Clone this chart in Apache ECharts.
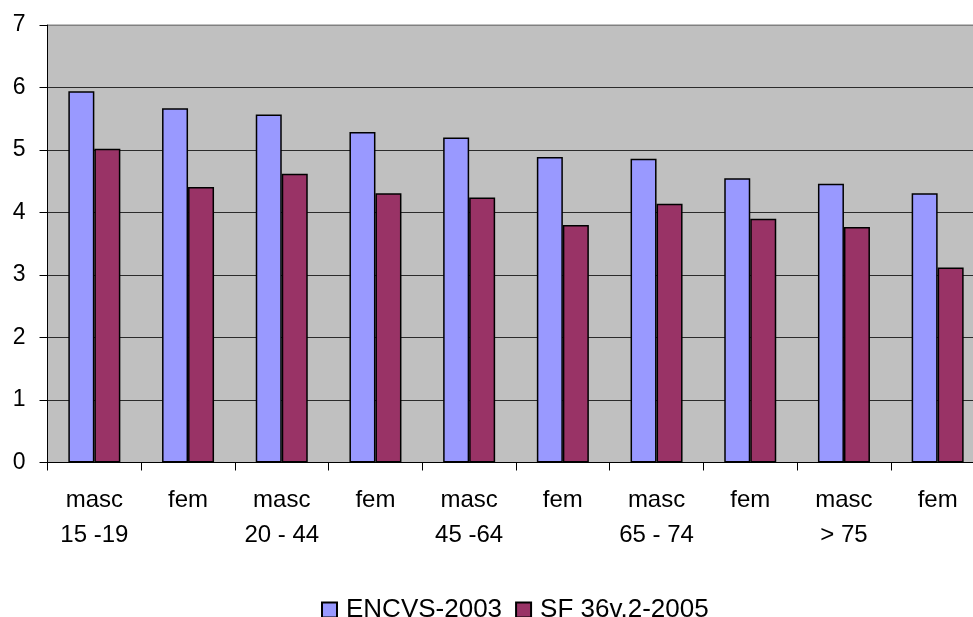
<!DOCTYPE html>
<html>
<head>
<meta charset="utf-8">
<script src="https://cdn.jsdelivr.net/npm/echarts@6/dist/echarts.min.js"></script>
<style>
html,body{margin:0;padding:0;background:#fff;overflow:hidden;width:973px;height:617px;}
#chart{width:990px;height:617px;}
</style>
</head>
<body>
<div id="chart"></div>
<script>
var categories = ["masc\n15 -19", "fem", "masc\n20 - 44", "fem", "masc\n45 -64", "fem", "masc\n65 - 74", "fem", "masc\n> 75", "fem"];
var seriesNames = ["ENCVS-2003", "SF 36v.2-2005"];
var encvs = [5.94, 5.67, 5.57, 5.29, 5.20, 4.89, 4.86, 4.55, 4.46, 4.31];
var sf36 = [5.02, 4.41, 4.62, 4.31, 4.24, 3.80, 4.14, 3.90, 3.77, 3.12];
var yTicks = [0, 1, 2, 3, 4, 5, 6, 7];

var FONT = '"Liberation Sans", Arial, sans-serif';
var chart = echarts.init(document.getElementById('chart'), null, {renderer: 'canvas'});
chart.setOption({
  animation: false,
  backgroundColor: '#ffffff',
  grid: {
    left: 47.5, right: 5.5, top: 25, bottom: 154.5,
    show: true, backgroundColor: '#c0c0c0', borderColor: '#808080', borderWidth: 1,
    containLabel: false
  },
  legend: {
    data: seriesNames,
    left: 316, top: 592,
    icon: 'rect', itemWidth: 15, itemHeight: 15, itemGap: 13,
    textStyle: {fontFamily: FONT, fontSize: 26, color: '#000', padding: [0, 0, 0, 4]}
  },
  xAxis: {
    type: 'category',
    data: categories,
    boundaryGap: true,
    axisLine: {show: true, lineStyle: {color: '#000', width: 1}},
    axisTick: {show: true, length: 8, lineStyle: {color: '#000'}},
    axisLabel: {
      fontFamily: FONT, fontSize: 24, color: '#000', lineHeight: 35,
      margin: 20, interval: 0
    },
    splitLine: {show: false}
  },
  yAxis: {
    type: 'value',
    min: yTicks[0], max: yTicks[yTicks.length - 1], interval: 1,
    axisLine: {show: true, lineStyle: {color: '#000', width: 1}},
    axisTick: {show: true, length: 8, lineStyle: {color: '#000'}},
    axisLabel: {fontFamily: FONT, fontSize: 23, color: '#000', margin: 22},
    splitLine: {show: true, lineStyle: {color: ['#2b2b2b', '#2b2b2b', '#2b2b2b', '#2b2b2b', '#2b2b2b', '#2b2b2b', '#2b2b2b', '#808080'], width: 1}}
  },
  series: [
    {
      name: seriesNames[0], type: 'bar', data: encvs,
      barWidth: 26, barGap: '0%',
      itemStyle: {color: '#9999ff', borderColor: '#000', borderWidth: 1.5}
    },
    {
      name: seriesNames[1], type: 'bar', data: sf36,
      barWidth: 26, barGap: '0%',
      itemStyle: {color: '#993366', borderColor: '#000', borderWidth: 1.5}
    }
  ]
});
</script>
</body>
</html>
